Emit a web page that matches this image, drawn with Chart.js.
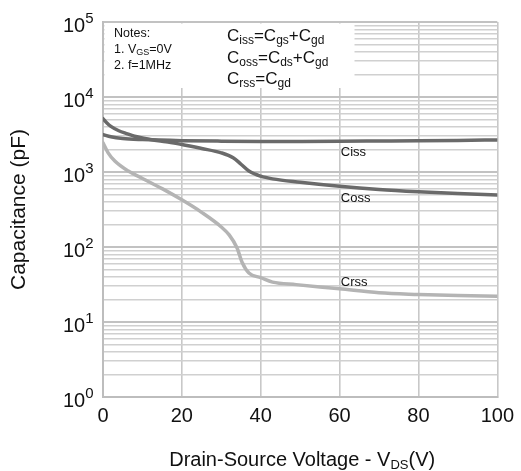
<!DOCTYPE html>
<html>
<head>
<meta charset="utf-8">
<script src="https://cdn.jsdelivr.net/npm/chart.js@4.4.0/dist/chart.umd.min.js"></script>
<style>
  body { margin: 0; background: #fff; }
  #wrap { width: 521px; height: 471px; }
</style>
</head>
<body>
<div id="wrap"><canvas id="capChart"></canvas></div>
<script>
const FONT = '"Liberation Sans", Arial, sans-serif';

// Drain-source voltage (V) and capacitance (pF)
const vdsCiss = [0, 2, 5, 10, 20, 30, 40, 50, 60, 70, 80, 90, 100];
const cissPF  = [3150, 2950, 2800, 2710, 2620, 2580, 2560, 2560, 2570, 2590, 2610, 2640, 2680];

const vdsCoss = [0, 1, 2, 4, 6, 8, 12, 16, 20, 25, 30, 33, 35, 37, 40, 43, 50, 60, 70, 80, 90, 100];
const cossPF  = [5150, 4500, 4050, 3550, 3250, 3000, 2720, 2520, 2330, 2060, 1800, 1550, 1270, 1030, 880, 810, 730, 645, 585, 545, 515, 495];

const vdsCrss = [0, 1.3, 3, 6.4, 10, 15, 20, 25, 30, 32, 34, 35.3, 37, 40, 43, 49, 60, 70, 80, 90, 100];
const crssPF  = [2450, 1800, 1400, 1030, 820, 600, 425, 290, 185, 145, 97, 62, 45, 39, 34, 31.5, 27.7, 24.5, 23.3, 22.5, 22];

// axis ticks
const xTicks = [0, 20, 40, 60, 80, 100];
const yDecades = [1, 10, 100, 1000, 10000, 100000];
const yMinorSteps = [1, 2, 3, 4, 5, 6, 7, 8, 9];

// curve names and where their labels sit (data units)
const curveNames = ['Ciss', 'Coss', 'Crss'];
const labelVds = [60.3, 60.3, 60.3];
const labelPF = [1620, 395, 30.5];

function toPoints(xs, ys) {
    return xs.map((x, i) => ({ x: x, y: ys[i] }));
}

function isDecade(v) {
    return yDecades.indexOf(v) !== -1;
}

// draws text made of pieces [text, size, dy] (for sub/superscripts)
function drawParts(ctx, parts, x, y, align) {
    let w = 0;
    parts.forEach(p => {
        ctx.font = p[1] + 'px ' + FONT;
        w += ctx.measureText(p[0]).width;
    });
    let cx = x;
    if (align === 'right') cx = x - w;
    if (align === 'center') cx = x - w / 2;
    ctx.textAlign = 'left';
    ctx.textBaseline = 'alphabetic';
    parts.forEach(p => {
        ctx.font = p[1] + 'px ' + FONT;
        ctx.fillText(p[0], cx, y + (p[2] || 0));
        cx += ctx.measureText(p[0]).width;
    });
}

const decorPlugin = {
    id: 'decor',
    beforeDatasetsDraw(chart) {
        // white notes box over the grid, top-left corner
        const ctx = chart.ctx;
        const a = chart.chartArea;
        ctx.save();
        ctx.fillStyle = '#ffffff';
        ctx.fillRect(a.left + 1.5, a.top + 1.5, 250, 64.5);
        ctx.restore();
    },
    afterDraw(chart) {
        const ctx = chart.ctx;
        const a = chart.chartArea;
        const xs = chart.scales.x;
        const ys = chart.scales.y;
        ctx.save();
        ctx.fillStyle = '#111111';

        // y tick labels 10^n
        yDecades.forEach(v => {
            const py = ys.getPixelForValue(v);
            const exp = Math.round(Math.log10(v));
            drawParts(ctx, [['10', 20, 0], [String(exp), 15, -9]], a.left - 9.5, py + 10, 'right');
        });

        // y title
        ctx.save();
        ctx.translate(25, (a.top + a.bottom) / 2);
        ctx.rotate(-Math.PI / 2);
        ctx.font = '21px ' + FONT;
        ctx.textAlign = 'center';
        ctx.textBaseline = 'alphabetic';
        ctx.fillText('Capacitance (pF)', 0, 0);
        ctx.restore();

        // x title
        drawParts(ctx, [['Drain-Source Voltage - V', 20, 0], ['DS', 13, 3], ['(V)', 20, 0]],
            (a.left + a.right) / 2 + 2, chart.height - 5, 'center');

        // notes
        const nx = a.left + 11;
        drawParts(ctx, [['Notes:', 12.5, 0]], nx, a.top + 14.5);
        drawParts(ctx, [['1. V', 12.5, 0], ['GS', 9, 2], ['=0V', 12.5, 0]], nx, a.top + 31);
        drawParts(ctx, [['2. f=1MHz', 12.5, 0]], nx, a.top + 46.5);

        // formulas
        const fx = a.left + 124;
        drawParts(ctx, [['C', 17, 0], ['iss', 12, 3], ['=C', 17, 0], ['gs', 12, 3], ['+C', 17, 0], ['gd', 12, 3]], fx, a.top + 19.3);
        drawParts(ctx, [['C', 17, 0], ['oss', 12, 3], ['=C', 17, 0], ['ds', 12, 3], ['+C', 17, 0], ['gd', 12, 3]], fx, a.top + 41);
        drawParts(ctx, [['C', 17, 0], ['rss', 12, 3], ['=C', 17, 0], ['gd', 12, 3]], fx, a.top + 62);

        // curve labels
        curveNames.forEach((name, i) => {
            drawParts(ctx, [[name, 13, 0]], xs.getPixelForValue(labelVds[i]), ys.getPixelForValue(labelPF[i]));
        });
        ctx.restore();
    }
};

const lineStyle = {
    fill: false,
    pointRadius: 0,
    borderWidth: 3.5,
    cubicInterpolationMode: 'monotone',
    borderCapStyle: 'round'
};

new Chart(document.getElementById('capChart'), {
    type: 'line',
    data: {
        datasets: [
            Object.assign({ label: 'Ciss', data: toPoints(vdsCiss, cissPF), borderColor: '#6a6a6a' }, lineStyle),
            Object.assign({ label: 'Coss', data: toPoints(vdsCoss, cossPF), borderColor: '#6a6a6a' }, lineStyle),
            Object.assign({ label: 'Crss', data: toPoints(vdsCrss, crssPF), borderColor: '#b4b4b4' }, lineStyle)
        ]
    },
    options: {
        responsive: true,
        maintainAspectRatio: false,
        animation: false,
        layout: { padding: { top: 22, right: 20, left: 0, bottom: 0 } },
        plugins: {
            legend: { display: false },
            tooltip: { enabled: false }
        },
        scales: {
            x: {
                type: 'linear',
                min: 0,
                max: 100,
                afterBuildTicks: scale => { scale.ticks = xTicks.map(v => ({ value: v })); },
                afterFit: scale => { scale.height = 74; },
                ticks: {
                    font: { family: FONT, size: 20 },
                    color: '#111111',
                    padding: 7,
                    maxRotation: 0,
                    autoSkip: false
                },
                grid: { color: '#c8c8c8', lineWidth: 1.6, drawTicks: false },
                border: { color: '#bdbdbd', width: 2 }
            },
            y: {
                type: 'logarithmic',
                min: 1,
                max: 100000,
                afterBuildTicks: scale => {
                    const t = [];
                    yDecades.forEach(d => {
                        yMinorSteps.forEach(m => {
                            const v = d * m;
                            if (v <= 100000) t.push({ value: v, major: m === 1 });
                        });
                    });
                    scale.ticks = t;
                },
                afterFit: scale => { scale.width = 103; },
                ticks: { display: false, autoSkip: false },
                grid: {
                    drawTicks: false,
                    color: c => (c.tick && isDecade(c.tick.value)) ? '#c2c2c2' : '#d0d0d0',
                    lineWidth: c => (c.tick && isDecade(c.tick.value)) ? 2 : 1.5
                },
                border: { color: '#bdbdbd', width: 2 }
            }
        }
    },
    plugins: [decorPlugin]
});
</script>
</body>
</html>
